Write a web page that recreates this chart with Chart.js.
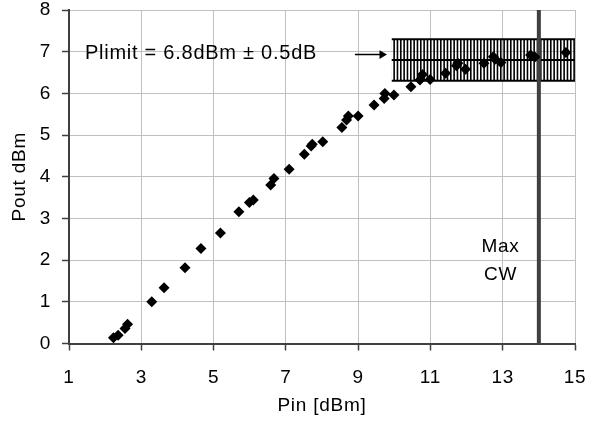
<!DOCTYPE html>
<html>
<head>
<meta charset="utf-8">
<script src="https://cdn.jsdelivr.net/npm/chart.js@4/dist/chart.umd.min.js"></script>
<style>
  html, body { margin: 0; padding: 0; background: #fff; }
  #wrap { width: 592px; height: 421px; }
</style>
</head>
<body>
<div id="wrap"><canvas id="chart"></canvas></div>
<script>
// measured output power vs input power
const pinDbm = [2.23, 2.36, 2.55, 2.62, 3.29, 3.63, 4.21, 4.65, 5.19, 5.70,
                5.99, 6.10, 6.58, 6.67, 7.09, 7.51, 7.70, 7.73, 8.02, 8.55,
                8.68, 8.73, 9.00, 9.44, 9.72, 9.74, 9.99, 10.46, 10.71, 10.78,
                10.99, 11.42, 11.72, 11.76, 11.97, 12.48, 12.74, 12.79, 12.95, 13.77,
                13.89, 14.75];
const poutDbm = [0.14, 0.20, 0.36, 0.46, 1.00, 1.34, 1.82, 2.28, 2.65, 3.16,
                 3.38, 3.44, 3.80, 3.96, 4.18, 4.54, 4.74, 4.78, 4.84, 5.18,
                 5.36, 5.46, 5.46, 5.72, 5.88, 6.00, 5.96, 6.16, 6.32, 6.45,
                 6.33, 6.48, 6.66, 6.72, 6.58, 6.72, 6.88, 6.82, 6.74, 6.92,
                 6.87, 6.98];

// Plimit band: 6.8 dBm +/- 0.5 dB
const bandPin = [9.93, 15];
const limitHigh = [7.3, 7.3];
const limitMid = [6.8, 6.8];
const limitLow = [6.3, 6.3];

// max CW input marker
const maxCwPin = 14;
const maxCwRange = [0, 8];

// arrow pointing at the band
const arrowPin = [8.91, 9.66];
const arrowPout = 6.93;

const limitLabel = 'Plimit = 6.8dBm \u00b1 0.5dB';
const limitLabelAt = { x: 1.44, y: 6.95 };
const maxCwLines = ['Max', 'CW'];
const maxCwLabelAt = { x: 12.94, y: [2.32, 1.64] };

const FONT = "'Liberation Sans', Arial, sans-serif";
const SPACING = '0.75px';

// vertical hatching for the limit band
function hatchPattern() {
  const c = document.createElement('canvas');
  c.width = 10; c.height = 10;
  const g = c.getContext('2d');
  g.fillStyle = '#000';
  [0, 10 / 3, 20 / 3].forEach(x => g.fillRect(x, 0, 1.6, 10));
  return g.createPattern(c, 'repeat');
}

const xy = (xs, ys) => xs.map((x, i) => ({ x, y: ys[i] }));

// slightly wider letter spacing for all canvas text
const spacingPlugin = {
  id: 'spacing',
  beforeLayout(chart) { chart.ctx.letterSpacing = SPACING; },
  beforeDraw(chart) { chart.ctx.letterSpacing = SPACING; }
};

// free text labels placed in data coordinates
const labelsPlugin = {
  id: 'labels',
  afterDatasetsDraw(chart) {
    const { ctx, scales: { x, y } } = chart;
    ctx.save();
    ctx.letterSpacing = SPACING;
    ctx.fillStyle = '#000';
    ctx.font = '20px ' + FONT;
    ctx.textBaseline = 'middle';
    ctx.textAlign = 'left';
    ctx.fillText(limitLabel, x.getPixelForValue(limitLabelAt.x), y.getPixelForValue(limitLabelAt.y));
    ctx.font = '19px ' + FONT;
    ctx.textAlign = 'center';
    maxCwLines.forEach((t, i) => {
      ctx.fillText(t, x.getPixelForValue(maxCwLabelAt.x), y.getPixelForValue(maxCwLabelAt.y[i]));
    });
    ctx.restore();
  }
};

new Chart(document.getElementById('chart'), {
  type: 'scatter',
  data: {
    datasets: [
      {
        label: 'Pout',
        data: xy(pinDbm, poutDbm),
        pointStyle: 'rectRot',
        pointRadius: 5.5,
        pointBackgroundColor: '#000',
        pointBorderColor: '#000',
        pointBorderWidth: 0,
        order: 0
      },
      {
        label: 'Max CW',
        type: 'line',
        data: maxCwRange.map(v => ({ x: maxCwPin, y: v })),
        borderColor: '#404040',
        borderWidth: 4,
        pointRadius: 0,
        order: 1
      },
      {
        label: 'arrow',
        type: 'line',
        data: arrowPin.map(v => ({ x: v, y: arrowPout })),
        borderColor: '#000',
        borderWidth: 1.5,
        pointRadius: [0, 5],
        pointStyle: 'triangle',
        rotation: 90,
        pointBackgroundColor: '#000',
        pointBorderWidth: 0,
        order: 2
      },
      {
        label: 'limit high',
        type: 'line',
        data: xy(bandPin, limitHigh),
        borderColor: '#000',
        borderWidth: 2,
        pointRadius: 0,
        fill: { target: 5 },
        backgroundColor: hatchPattern(),
        order: 3
      },
      {
        label: 'limit mid',
        type: 'line',
        data: xy(bandPin, limitMid),
        borderColor: '#000',
        borderWidth: 2,
        pointRadius: 0,
        order: 3
      },
      {
        label: 'limit low',
        type: 'line',
        data: xy(bandPin, limitLow),
        borderColor: '#000',
        borderWidth: 2,
        pointRadius: 0,
        order: 3
      }
    ]
  },
  options: {
    responsive: true,
    maintainAspectRatio: false,
    animation: false,
    events: [],
    layout: { padding: { top: 10, right: 17, left: 0, bottom: 0 } },
    plugins: { legend: { display: false }, tooltip: { enabled: false } },
    scales: {
      x: {
        type: 'linear',
        min: 1, max: 15,
        afterFit(scale) {
          scale.height = 77.5;
          scale.paddingLeft = 0;
          scale.paddingRight = 0;
        },
        ticks: { stepSize: 2, color: '#000', padding: 16, font: { family: FONT, size: 19 } },
        grid: { color: '#c0c0c0', lineWidth: 1, tickColor: '#404040', tickLength: 7, tickWidth: 1.5 },
        border: { color: '#404040', width: 2 },
        title: { display: true, text: 'Pin [dBm]', color: '#000', padding: { top: 0, bottom: 3.6 }, font: { family: FONT, size: 19 } }
      },
      y: {
        type: 'linear',
        min: 0, max: 8,
        afterFit(scale) {
          scale.width = 69;
          scale.paddingTop = 0;
          scale.paddingBottom = 0;
        },
        ticks: { stepSize: 1, color: '#000', padding: 11, font: { family: FONT, size: 19 } },
        grid: { color: '#c0c0c0', lineWidth: 1, tickColor: '#404040', tickLength: 7, tickWidth: 1.5 },
        border: { color: '#404040', width: 2 },
        title: { display: true, text: 'Pout dBm', color: '#000', padding: { top: 8.6, bottom: 0 }, font: { family: FONT, size: 19 } }
      }
    }
  },
  plugins: [spacingPlugin, labelsPlugin]
});
</script>
</body>
</html>
